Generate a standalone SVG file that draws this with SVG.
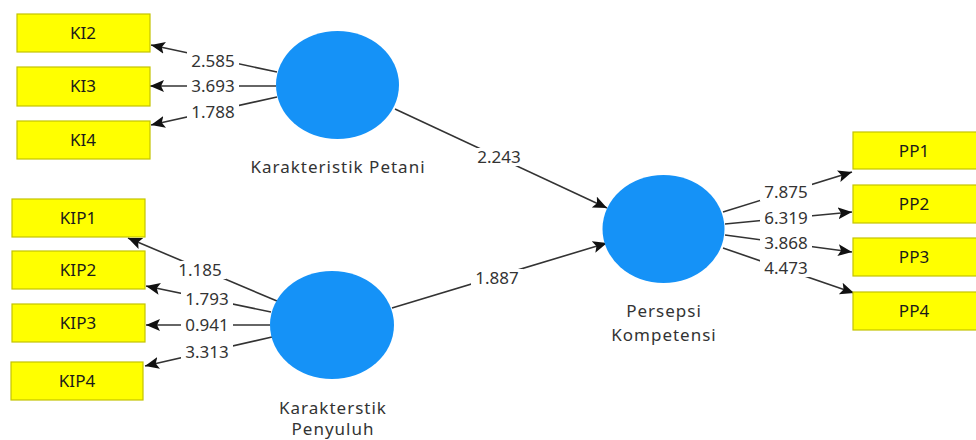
<svg xmlns="http://www.w3.org/2000/svg" width="976" height="440" viewBox="0 0 976 440">
<defs>
<style>
.box{fill:#ffff00;stroke:#c4c400;stroke-width:1.2}
.lv{fill:#1592f7}
.bt{font-family:"Noto Sans","Open Sans",sans-serif;font-size:17px;fill:#1a1a1a;text-anchor:middle}
.nt{font-family:"Noto Sans","Open Sans",sans-serif;font-size:17px;letter-spacing:1px;fill:#333;text-anchor:middle}
.lt{font-family:"Noto Sans","Open Sans",sans-serif;font-size:17px;fill:#333;text-anchor:middle}
.ln{stroke:#333;stroke-width:1.6;fill:none;marker-end:url(#ah)}
.lb{fill:#fff}
</style>
<marker id="ah" markerUnits="userSpaceOnUse" markerWidth="16" markerHeight="14" refX="14" refY="6" orient="auto">
<path d="M0,0 L14,6 L0,12 L3,6 z" fill="#111"/>
</marker>
</defs>
<rect width="976" height="440" fill="#fff"/>
<g id="connectors">
<line class="ln" x1="277" y1="72" x2="151" y2="45"/>
<line class="ln" x1="276" y1="86" x2="150" y2="86"/>
<line class="ln" x1="277" y1="97" x2="151" y2="125"/>
<line class="ln" x1="277" y1="301" x2="128" y2="238"/>
<line class="ln" x1="271" y1="312" x2="146" y2="286"/>
<line class="ln" x1="270" y1="325" x2="146" y2="325"/>
<line class="ln" x1="272" y1="337" x2="145" y2="366"/>
<line class="ln" x1="395" y1="109" x2="607" y2="208"/>
<line class="ln" x1="392" y1="308" x2="607" y2="243"/>
<line class="ln" x1="723" y1="212" x2="852" y2="172"/>
<line class="ln" x1="725" y1="224" x2="852" y2="212"/>
<line class="ln" x1="725" y1="235" x2="852" y2="252"/>
<line class="ln" x1="723" y1="248" x2="854" y2="293"/>
<rect class="lb" x="187" y="52" width="52" height="18"/>
<rect class="lb" x="187" y="77" width="52" height="18"/>
<rect class="lb" x="187" y="103" width="52" height="18"/>
<rect class="lb" x="174" y="261" width="52" height="18"/>
<rect class="lb" x="181" y="290" width="52" height="18"/>
<rect class="lb" x="181" y="316" width="52" height="18"/>
<rect class="lb" x="181" y="343" width="52" height="18"/>
<rect class="lb" x="473" y="148" width="52" height="18"/>
<rect class="lb" x="471" y="269" width="52" height="18"/>
<rect class="lb" x="760" y="183" width="52" height="18"/>
<rect class="lb" x="760" y="209" width="52" height="18"/>
<rect class="lb" x="760" y="234" width="52" height="18"/>
<rect class="lb" x="760" y="259" width="52" height="18"/>
<text class="lt" x="213" y="67">2.585</text>
<text class="lt" x="213" y="92">3.693</text>
<text class="lt" x="213" y="118">1.788</text>
<text class="lt" x="200" y="276">1.185</text>
<text class="lt" x="207" y="305">1.793</text>
<text class="lt" x="207" y="331">0.941</text>
<text class="lt" x="207" y="358">3.313</text>
<text class="lt" x="499" y="163">2.243</text>
<text class="lt" x="497" y="284">1.887</text>
<text class="lt" x="786" y="198">7.875</text>
<text class="lt" x="786" y="224">6.319</text>
<text class="lt" x="786" y="249">3.868</text>
<text class="lt" x="786" y="274">4.473</text>
</g>
<g id="KI2"><rect class="box" x="17" y="14" width="133" height="38"/><text class="bt" x="83" y="39">KI2</text></g>
<g id="KI3"><rect class="box" x="17" y="67" width="133" height="39"/><text class="bt" x="83" y="92">KI3</text></g>
<g id="KI4"><rect class="box" x="17" y="121" width="133" height="38"/><text class="bt" x="83" y="146">KI4</text></g>
<g id="KIP1"><rect class="box" x="12" y="199" width="133" height="38"/><text class="bt" x="78" y="224">KIP1</text></g>
<g id="KIP2"><rect class="box" x="12" y="251" width="133" height="38"/><text class="bt" x="78" y="276">KIP2</text></g>
<g id="KIP3"><rect class="box" x="12" y="304" width="133" height="38"/><text class="bt" x="78" y="329">KIP3</text></g>
<g id="KIP4"><rect class="box" x="11" y="362" width="132" height="38"/><text class="bt" x="77" y="387">KIP4</text></g>
<g id="PP1"><rect class="box" x="853" y="132" width="140" height="37"/><text class="bt" x="914" y="157">PP1</text></g>
<g id="PP2"><rect class="box" x="853" y="185" width="140" height="38"/><text class="bt" x="914" y="210">PP2</text></g>
<g id="PP3"><rect class="box" x="853" y="238" width="140" height="38"/><text class="bt" x="914" y="263">PP3</text></g>
<g id="PP4"><rect class="box" x="853" y="292" width="140" height="38"/><text class="bt" x="914" y="317">PP4</text></g>
<g id="KarakteristikPetani"><ellipse class="lv" cx="337.5" cy="85" rx="61.5" ry="54"/><text class="nt" x="338" y="173">Karakteristik Petani</text></g>
<g id="KarakterstikPenyuluh"><ellipse class="lv" cx="332" cy="325" rx="62" ry="54"/><text class="nt" x="333" y="414">Karakterstik</text><text class="nt" x="333" y="435">Penyuluh</text></g>
<g id="PersepsiKompetensi"><ellipse class="lv" cx="663.5" cy="229" rx="61" ry="54"/><text class="nt" x="664" y="317">Persepsi</text><text class="nt" x="664" y="341">Kompetensi</text></g>
</svg>
